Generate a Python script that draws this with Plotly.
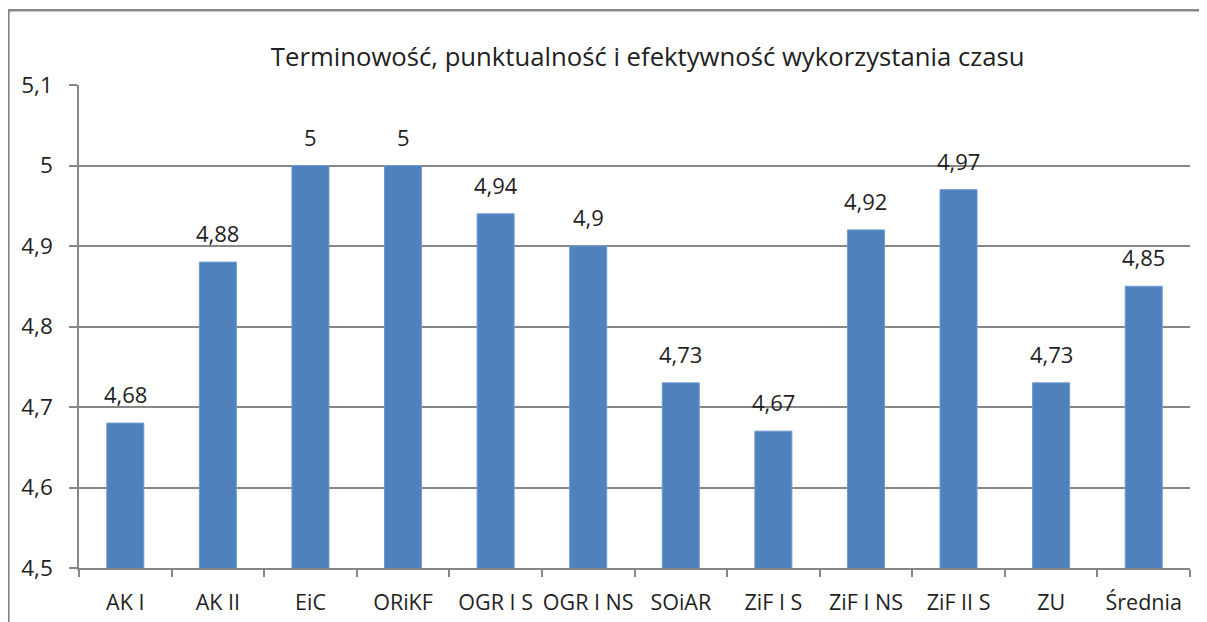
import plotly.graph_objects as go

categories = ["AK I", "AK II", "EiC", "ORiKF", "OGR I S", "OGR I NS", "SOiAR",
              "ZiF I S", "ZiF I NS", "ZiF II S", "ZU", "Średnia"]
values = [4.68, 4.88, 5.0, 5.0, 4.94, 4.9, 4.73, 4.67, 4.92, 4.97, 4.73, 4.85]
y_ticks = [4.5, 4.6, 4.7, 4.8, 4.9, 5.0, 5.1]
title_text = "Terminowość, punktualność i efektywność wykorzystania czasu"

labels = [("%g" % v).replace(".", ",") for v in values]
tick_text = [("%g" % v).replace(".", ",") for v in y_ticks]

FONT = "Open Sans"
TXT = "#1f1f1f"
GRID = "#878787"

fig = go.Figure(go.Bar(
    x=categories, y=values,
    marker=dict(color="#4F81BD", line=dict(color="#6F9BD0", width=1)),
    width=0.4,
))

annotations = [dict(x=c, y=v, text=t, xref="x", yref="y", showarrow=False,
                    yanchor="bottom", yshift=12,
                    font=dict(family=FONT, size=22, color=TXT))
               for c, v, t in zip(categories, values, labels)]

fig.update_layout(
    width=1207, height=622,
    margin=dict(l=71, r=25, t=77, b=62),
    paper_bgcolor="white", plot_bgcolor="white",
    showlegend=False,
    title=dict(text=title_text, x=0.530, xanchor="center", xref="container",
               y=0.921, yanchor="middle", yref="container",
               font=dict(family=FONT, size=25.7, color=TXT)),
    font=dict(family=FONT, size=22, color=TXT),
    annotations=annotations,
    shapes=[dict(type="rect", xref="paper", yref="paper",
                 x0=-0.0635, x1=1.05, y0=-0.2, y1=1.155,
                 line=dict(color=GRID, width=2.5), fillcolor="rgba(0,0,0,0)",
                 layer="below")],
)
fig.update_yaxes(range=[4.5, 5.1], tickvals=y_ticks, ticktext=tick_text,
                 showgrid=True, gridcolor=GRID, gridwidth=1.5,
                 showline=True, linecolor=GRID, linewidth=1.5,
                 ticks="outside", ticklen=8, tickcolor=GRID, tickwidth=1.5,
                 ticklabelstandoff=12, automargin=False,
                 zeroline=False, tickfont=dict(family=FONT, size=22.5, color=TXT))
fig.update_xaxes(showline=True, linecolor=GRID, linewidth=1.5,
                 ticks="outside", tickson="boundaries", ticklen=7,
                 tickcolor=GRID, tickwidth=1.5, showgrid=False,
                 tickangle=0, automargin=False, ticklabelstandoff=14,
                 tickfont=dict(family=FONT, size=21.5, color=TXT))

fig.write_html("out.html")
